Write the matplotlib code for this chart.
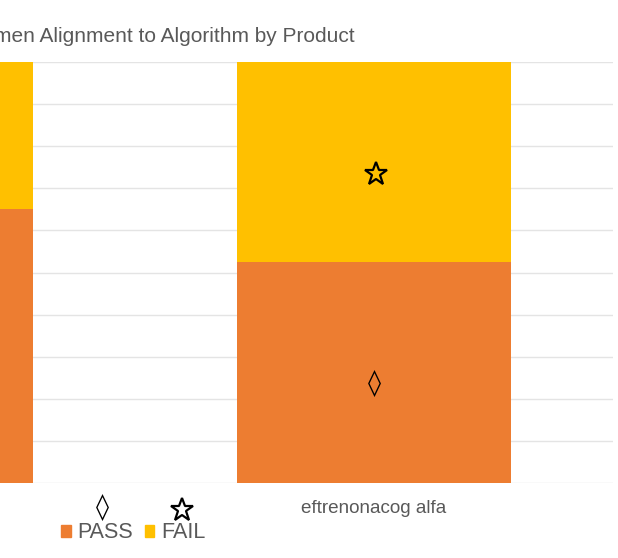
import matplotlib.pyplot as plt
from matplotlib.lines import Line2D
from matplotlib.patches import Patch

plt.rcParams['font.family'] = ['Liberation Sans', 'DejaVu Sans']

# data
products = ["albutrepenonacog alfa", "eftrenonacog alfa"]
pass_share = [0.65, 0.525]
fail_share = [0.35, 0.475]
series = ["PASS", "FAIL"]
colors = ["#ED7D31", "#FFC000"]
title = "Regimen Alignment to Algorithm by Product"

W, H = 618, 558
fig = plt.figure(figsize=(W / 100, H / 100), dpi=100)

# the chart is cropped on the left, so the axes starts outside the figure
ax_left, ax_right, ax_top, ax_bottom = -343, 613, 62, 483
ax = fig.add_axes([ax_left / W, 1 - ax_bottom / H,
                   (ax_right - ax_left) / W, (ax_bottom - ax_top) / H])

x = list(range(len(products)))
ax.bar(x, pass_share, width=0.573, color=colors[0], zorder=2)
ax.bar(x, fail_share, width=0.573, bottom=pass_share, color=colors[1], zorder=2)

for i in x:
    ax.text(i, pass_share[i] / 2 - 0.028, "\u25ca", ha="center", va="center",
            fontsize=19, family="DejaVu Sans", zorder=3)
    ax.plot(i + 0.004, pass_share[i] + fail_share[i] / 2 - 0.028, marker="*",
            markersize=17, mfc="none", mec="black", mew=1.6, zorder=3)

ax.set_xlim(-0.5, 1.5)
ax.set_ylim(0, 1)
ax.set_yticks([i / 10 for i in range(11)])
ax.yaxis.grid(True, color="#E4E4E4", linewidth=1, zorder=0)
ax.set_yticklabels([])
ax.set_xticks(x)
ax.set_xticklabels(products, color="#595959", fontsize=13.6)
ax.tick_params(length=0, pad=12)
for s in ax.spines.values():
    s.set_visible(False)

fig.text(355 / W, 1 - 37 / H, title, ha="right", va="center",
         fontsize=15, color="#595959")

# legend
handles = [Patch(color=c) for c in colors]
fig.legend(handles, series, loc="center left", bbox_to_anchor=(61 / W, 1 - 533 / H),
           ncol=2, frameon=False, fontsize=15.5, handlelength=0.45, handleheight=0.45,
           handletextpad=0.3, columnspacing=0.55, borderaxespad=0, borderpad=0,
           labelcolor="#595959")
fig.text(102 / W, 1 - 508 / H, "\u25ca", ha="center", va="center",
         fontsize=19, family="DejaVu Sans")
fig.add_artist(Line2D([182 / W], [1 - 510 / H], transform=fig.transFigure, marker="*",
                      markersize=17, mfc="none", mec="black", mew=1.6))

fig.savefig("out.png", dpi=100)
